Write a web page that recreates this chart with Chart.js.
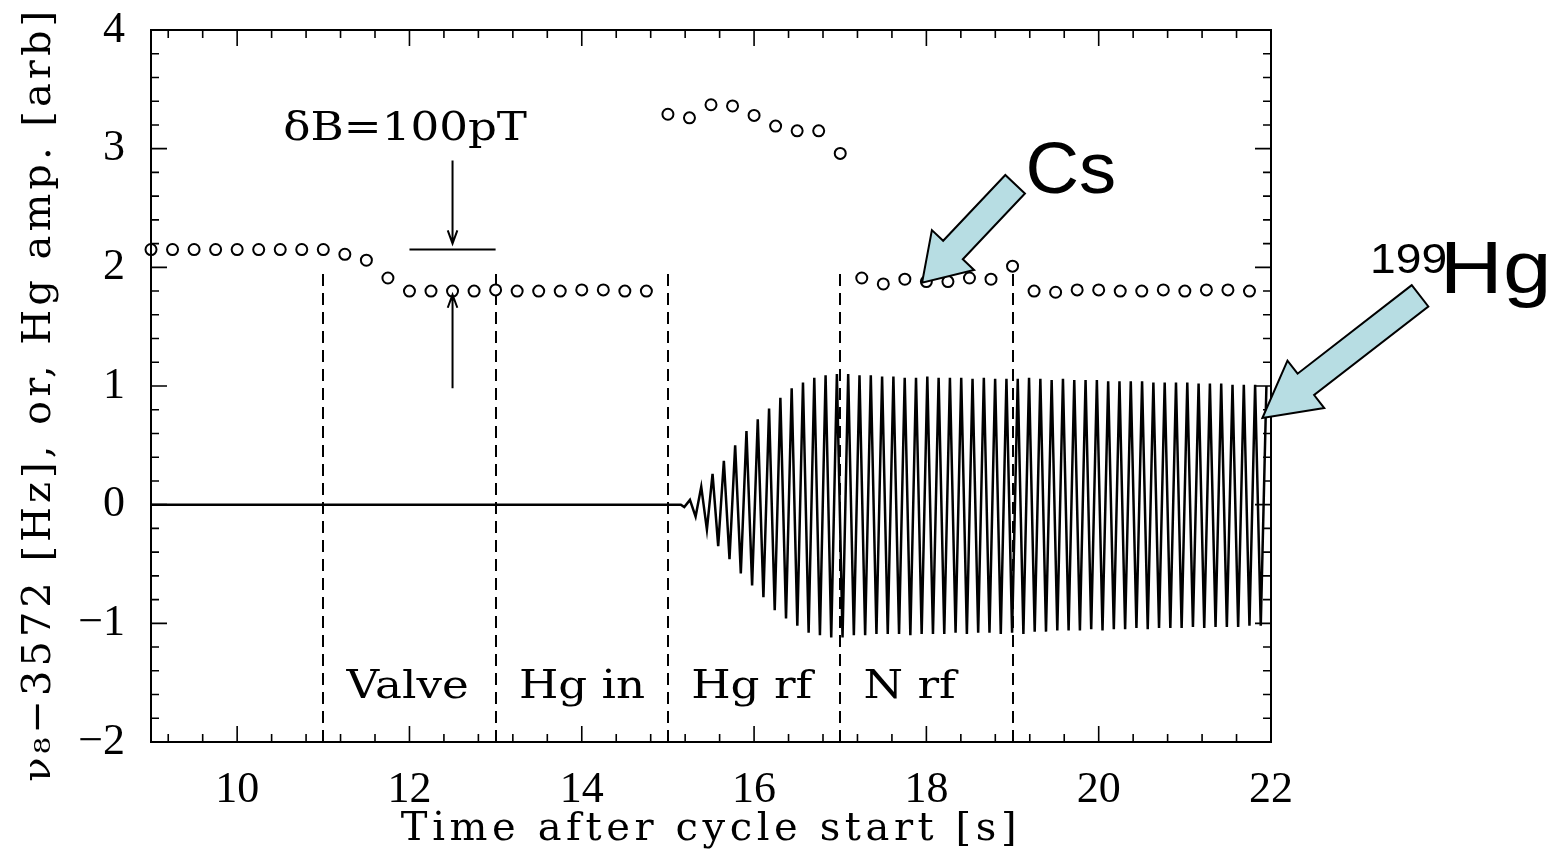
<!DOCTYPE html>
<html>
<head>
<meta charset="utf-8">
<script src="https://cdn.jsdelivr.net/npm/chart.js@4.4.1/dist/chart.umd.min.js"></script>
<style>
	html, body { margin: 0; padding: 0; background: #fff; }
	#moldura { width: 1567px; height: 854px; }
</style>
</head>
<body>
<div id="moldura"><canvas id="graficoCiclo"></canvas></div>
<script>
// campo medido (Cs), um ponto a cada 0.25 s
var campoTempos = [
	9.0, 9.25, 9.5, 9.75, 10.0, 10.25, 10.5, 10.75, 11.0, 11.25, 11.5, 11.75,
	12.0, 12.25, 12.5, 12.75, 13.0, 13.25, 13.5, 13.75, 14.0, 14.25, 14.5, 14.75,
	15.0, 15.25, 15.5, 15.75, 16.0, 16.25, 16.5, 16.75, 17.0,
	17.25, 17.5, 17.75, 18.0, 18.25, 18.5, 18.75, 19.0,
	19.25, 19.5, 19.75, 20.0, 20.25, 20.5, 20.75, 21.0, 21.25, 21.5, 21.75
];
var campoValores = [
	2.15, 2.15, 2.15, 2.15, 2.15, 2.15, 2.15, 2.15, 2.15, 2.11, 2.06, 1.91,
	1.80, 1.80, 1.80, 1.80, 1.81, 1.80, 1.80, 1.80, 1.81, 1.81, 1.80, 1.80,
	3.29, 3.26, 3.37, 3.36, 3.28, 3.19, 3.15, 3.15, 2.96,
	1.91, 1.86, 1.90, 1.88, 1.88, 1.91, 1.90, 2.01,
	1.80, 1.79, 1.81, 1.81, 1.80, 1.80, 1.81, 1.80, 1.81, 1.81, 1.80
];

// sinal do Hg: repouso em zero e depois os extremos de cada meio ciclo
var hgInicio = 9.0;
var hgFimRepouso = 15.15;
var hgPrimeiroExtremo = 15.19;
var hgMeioPeriodo = 0.0656;
var hgExtremos = [
	-0.02, 0.04, -0.10, 0.15, -0.21, 0.26, -0.35, 0.37, -0.46, 0.50,
	-0.58, 0.62, -0.68, 0.72, -0.78, 0.81, -0.89, 0.90, -0.96, 0.98,
	-1.02, 1.03, -1.08, 1.07, -1.10, 1.09, -1.12, 1.10, -1.12, 1.10,
	-1.10, 1.09, -1.10, 1.09, -1.09, 1.08, -1.09, 1.08, -1.09, 1.07,
	-1.10, 1.07, -1.09, 1.08, -1.09, 1.07, -1.09, 1.07, -1.08, 1.07,
	-1.09, 1.06, -1.08, 1.07, -1.08, 1.06, -1.09, 1.06, -1.08, 1.06,
	-1.09, 1.07, -1.07, 1.06, -1.07, 1.05, -1.06, 1.06, -1.06, 1.05,
	-1.06, 1.05, -1.05, 1.05, -1.06, 1.04, -1.05, 1.04, -1.05, 1.04,
	-1.04, 1.04, -1.05, 1.03, -1.04, 1.03, -1.04, 1.03, -1.04, 1.03,
	-1.03, 1.02, -1.04, 1.02, -1.03, 1.02, -1.03, 1.01, -1.03, 1.01,
	-1.02, 1.01, -1.02, 1.00
];

var xTicks = [10, 12, 14, 16, 18, 20, 22];
var yTicks = [-2, -1, 0, 1, 2, 3, 4];

var fasesLimites = [11, 13, 15, 17, 19];
var fasesNomes = ['Valve', 'Hg in', 'Hg rf', 'N rf'];

var Grafico = Grafico || {};

Grafico.Ciclo = (function() {

	var fonteSerif = '"DejaVu Serif", "Liberation Serif", serif';
	var fonteNumeros = '"Liberation Serif", "DejaVu Serif", serif';
	var fonteSans = '"Liberation Sans", Arial, sans-serif';
	var azul = '#b7dde3';

	function Ciclo() {
		this.ctx = document.getElementById('graficoCiclo').getContext('2d');
	}

	Ciclo.prototype.iniciar = function() {
		var hgPontos = [{ x: hgInicio, y: 0 }, { x: hgFimRepouso, y: 0 }];
		hgExtremos.forEach(function(v, i) {
			hgPontos.push({ x: hgPrimeiroExtremo + i * hgMeioPeriodo, y: v });
		});

		var campoPontos = campoTempos.map(function(t, i) {
			return { x: t, y: campoValores[i] };
		});

		new Chart(this.ctx, {
			type: 'scatter',
			data: {
				datasets: [{
					label: 'Cs',
					data: campoPontos,
					showLine: false,
					pointRadius: 5.5,
					pointBorderWidth: 2,
					pointBorderColor: '#000',
					pointBackgroundColor: '#fff',
					clip: false,
					order: 1
				}, {
					label: 'Hg',
					data: hgPontos,
					showLine: true,
					borderColor: '#000',
					borderWidth: 2.5,
					pointRadius: 0,
					tension: 0,
					order: 2
				}]
			},
			options: {
				responsive: true,
				maintainAspectRatio: false,
				animation: false,
				events: [],
				layout: { padding: { top: 30, right: 296, left: 0, bottom: 0 } },
				plugins: {
					legend: { display: false },
					tooltip: { enabled: false }
				},
				scales: {
					x: {
						type: 'linear',
						min: 9,
						max: 22,
						grid: { display: false, drawTicks: false },
						border: { display: false },
						afterBuildTicks: function(scale) {
							scale.ticks = xTicks.map(function(v) { return { value: v }; });
						},
						afterFit: function(scale) {
							scale.height = 112;
							scale.paddingLeft = 0;
							scale.paddingRight = 0;
						},
						ticks: {
							color: '#000',
							padding: 22,
							maxRotation: 0,
							font: { family: fonteNumeros, size: 44 },
							callback: function(v) { return String(v); }
						},
						title: {
							display: true,
							text: 'Time after cycle start [s]',
							color: '#000',
							padding: { top: 0, bottom: 0 },
							font: { family: fonteSerif, size: 40 }
						}
					},
					y: {
						type: 'linear',
						min: -2,
						max: 4,
						grid: { display: false, drawTicks: false },
						border: { display: false },
						afterBuildTicks: function(scale) {
							scale.ticks = yTicks.map(function(v) { return { value: v }; });
						},
						afterFit: function(scale) {
							scale.width = 151;
							scale.paddingTop = 0;
							scale.paddingBottom = 0;
						},
						ticks: {
							color: '#000',
							padding: 26,
							font: { family: fonteNumeros, size: 44 },
							callback: function(v) { return v < 0 ? '\u2212' + Math.abs(v) : String(v); }
						},
						title: {
							display: true,
							text: '\u03bd\u2088\u22123572 [Hz], or, Hg amp. [arb] ',
							color: '#000',
							padding: { top: 16, bottom: 0 },
							font: { family: fonteSerif, size: 40 }
						}
					}
				}
			},
			plugins: [{
				id: 'espacamentoTitulos',
				afterLayout: function(chart) {
					espacarTitulo(chart.scales.x, '4.6px');
					espacarTitulo(chart.scales.y, '4px');
				}
			}, {
				id: 'fases',
				beforeDatasetsDraw: function(chart) {
					var c = chart.ctx, x = chart.scales.x, y = chart.scales.y;
					c.save();
					c.strokeStyle = '#000';
					c.lineWidth = 2;
					c.setLineDash([12, 7]);
					fasesLimites.forEach(function(t) {
						var px = Math.round(x.getPixelForValue(t));
						c.beginPath();
						c.moveTo(px, y.getPixelForValue(-2));
						c.lineTo(px, y.getPixelForValue(1.98));
						c.stroke();
					});
					c.setLineDash([]);
					c.fillStyle = '#000';
					c.font = '40px ' + fonteSerif;
					c.textBaseline = 'alphabetic';
					fasesNomes.forEach(function(nome, i) {
						textoEsticado(c, nome, x.getPixelForValue(fasesLimites[i] + 0.27), y.getPixelForValue(-1.63), 1.13, 'left');
					});
					c.restore();
				},
				afterDatasetsDraw: function(chart) {
					var c = chart.ctx, x = chart.scales.x, y = chart.scales.y, a = chart.chartArea;
					c.save();
					c.strokeStyle = '#000';
					c.lineWidth = 2;
					c.strokeRect(a.left, a.top, a.right - a.left, a.bottom - a.top);

					c.lineWidth = 1.6;
					c.beginPath();
					var v, px, py, tam;
					for (v = 9.2; v < 22; v += 0.4) {
						px = x.getPixelForValue(v);
						tam = Math.abs(v / 2 - Math.round(v / 2)) < 0.01 ? 16 : 8;
						c.moveTo(px, a.bottom); c.lineTo(px, a.bottom - tam);
						c.moveTo(px, a.top); c.lineTo(px, a.top + tam);
					}
					for (v = -1.8; v < 4; v += 0.2) {
						py = y.getPixelForValue(v);
						tam = Math.abs(v - Math.round(v)) < 0.01 ? 16 : 8;
						c.moveTo(a.left, py); c.lineTo(a.left + tam, py);
						c.moveTo(a.right, py); c.lineTo(a.right - tam, py);
					}
					c.stroke();

					// escala do deltaB
					var xm = x.getPixelForValue(12.5);
					c.lineWidth = 2;
					c.beginPath();
					c.moveTo(x.getPixelForValue(12), y.getPixelForValue(2.15));
					c.lineTo(x.getPixelForValue(13), y.getPixelForValue(2.15));
					c.stroke();
					desenharFlecha(c, xm, y.getPixelForValue(2.9), xm, y.getPixelForValue(2.2));
					desenharFlecha(c, xm, y.getPixelForValue(0.98), xm, y.getPixelForValue(1.77));

					c.fillStyle = '#000';
					c.font = '40px ' + fonteSerif;
					c.textBaseline = 'alphabetic';
					textoEsticado(c, '\u03b4B=100pT', x.getPixelForValue(11.95), y.getPixelForValue(3.07), 1.13, 'center');
					c.restore();
				},
				afterDraw: function(chart) {
					var c = chart.ctx, x = chart.scales.x, y = chart.scales.y;
					c.save();
					desenharSeta(c, x.getPixelForValue(19.03), y.getPixelForValue(2.7),
						x.getPixelForValue(17.95), y.getPixelForValue(1.87), 27, 58, 45);
					desenharSeta(c, x.getPixelForValue(23.73), y.getPixelForValue(1.76),
						x.getPixelForValue(21.9), y.getPixelForValue(0.73), 27, 60, 55);

					c.fillStyle = '#000';
					c.textBaseline = 'alphabetic';
					c.font = '72px ' + fonteSans;
					textoEsticado(c, 'Cs', x.getPixelForValue(19.15), y.getPixelForValue(2.63), 1.03, 'left');
					c.font = '42px ' + fonteSans;
					textoEsticado(c, '199', x.getPixelForValue(23.15), y.getPixelForValue(1.955), 1.1, 'left');
					c.font = '74px ' + fonteSans;
					textoEsticado(c, 'Hg', x.getPixelForValue(23.96), y.getPixelForValue(1.786), 1.18, 'left');
					c.restore();
				}
			}]
		});
	};

	function espacarTitulo(scale, espaco) {
		if (scale._tituloEspacado) return;
		var original = scale.drawTitle;
		scale.drawTitle = function() {
			this.ctx.save();
			this.ctx.letterSpacing = espaco;
			original.apply(this, arguments);
			this.ctx.restore();
		};
		scale._tituloEspacado = true;
	}

	function textoEsticado(c, texto, px, py, fator, alinhamento) {
		c.save();
		c.translate(px, py);
		c.scale(fator, 1);
		c.textAlign = alinhamento;
		c.fillText(texto, 0, 0);
		c.restore();
	}

	function desenharFlecha(c, x0, y0, x1, y1) {
		var ang = Math.atan2(y1 - y0, x1 - x0);
		c.beginPath();
		c.moveTo(x0, y0);
		c.lineTo(x1, y1);
		c.moveTo(x1 - 14 * Math.cos(ang - 0.35), y1 - 14 * Math.sin(ang - 0.35));
		c.lineTo(x1, y1);
		c.lineTo(x1 - 14 * Math.cos(ang + 0.35), y1 - 14 * Math.sin(ang + 0.35));
		c.stroke();
	}

	function desenharSeta(c, x0, y0, x1, y1, haste, cabeca, compCabeca) {
		var dx = x1 - x0, dy = y1 - y0;
		var len = Math.sqrt(dx * dx + dy * dy);
		var ux = dx / len, uy = dy / len;
		var nx = -uy, ny = ux;
		var bx = x1 - ux * compCabeca, by = y1 - uy * compCabeca;
		var hs = haste / 2, hc = cabeca / 2;
		c.beginPath();
		c.moveTo(x0 + nx * hs, y0 + ny * hs);
		c.lineTo(bx + nx * hs, by + ny * hs);
		c.lineTo(bx + nx * hc, by + ny * hc);
		c.lineTo(x1, y1);
		c.lineTo(bx - nx * hc, by - ny * hc);
		c.lineTo(bx - nx * hs, by - ny * hs);
		c.lineTo(x0 - nx * hs, y0 - ny * hs);
		c.closePath();
		c.fillStyle = azul;
		c.fill();
		c.lineWidth = 2;
		c.strokeStyle = '#000';
		c.lineJoin = 'miter';
		c.stroke();
	}

	return Ciclo;

}());

window.addEventListener('load', function() {
	var graficoCiclo = new Grafico.Ciclo();
	graficoCiclo.iniciar();
});
</script>
</body>
</html>
